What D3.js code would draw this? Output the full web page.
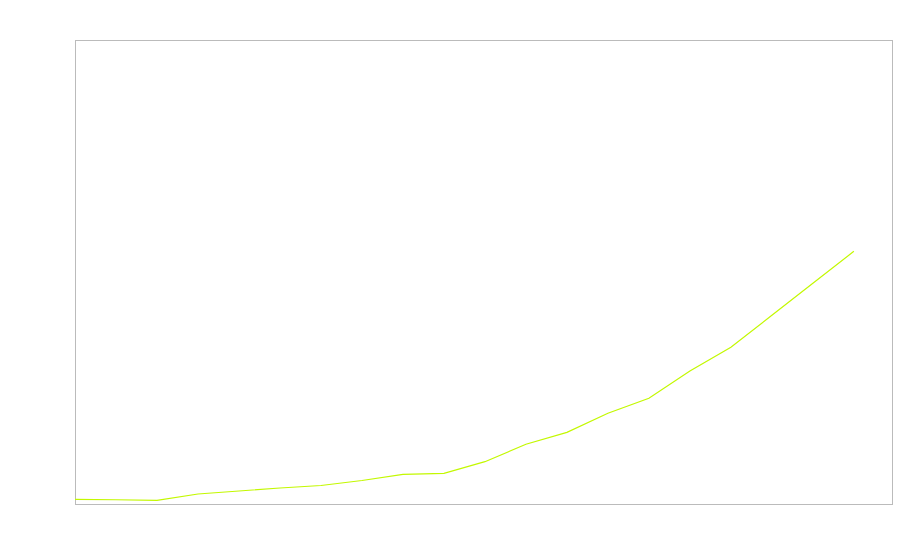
<!DOCTYPE html>
<html>
<head>
<meta charset="utf-8">
<script src="https://cdn.jsdelivr.net/npm/d3@7"></script>
<style>
  body { margin: 0; background: #fff; }
</style>
</head>
<body>
<script>
const steps = d3.range(20)
const values = [
  1.01, 0.92, 0.8, 2.16, 2.8, 3.45, 3.99, 5.06, 6.4, 6.62,
  9.12, 12.87, 15.45, 19.55, 22.78, 28.66, 33.77, 40.67, 47.57, 54.46,
]
const yMax = 100
const xMax = 19.93

const width = 900
const height = 560
const margin = { top: 40, right: 8, bottom: 56, left: 75 }
const innerW = width - margin.left - margin.right
const innerH = height - margin.top - margin.bottom

const svg = d3
  .select('body')
  .append('svg')
  .attr('width', width)
  .attr('height', height)

const g = svg
  .append('g')
  .attr('transform', `translate(${margin.left}, ${margin.top})`)

const x = d3.scaleLinear().domain([0, xMax]).range([0, innerW])
const y = d3.scaleLinear().domain([0, yMax]).range([innerH, 0])

g.append('rect')
  .attr('x', 0.5)
  .attr('y', 0.5)
  .attr('width', innerW)
  .attr('height', innerH)
  .attr('fill', 'none')
  .attr('stroke', '#bbbbbb')

const line = d3
  .line()
  .x((d, i) => x(steps[i]))
  .y((d) => y(d))

g.append('path')
  .datum(values)
  .attr('d', line)
  .attr('fill', 'none')
  .attr('stroke', '#c3f800')
  .style('stroke-width', '1.2px')
</script>
</body>
</html>
